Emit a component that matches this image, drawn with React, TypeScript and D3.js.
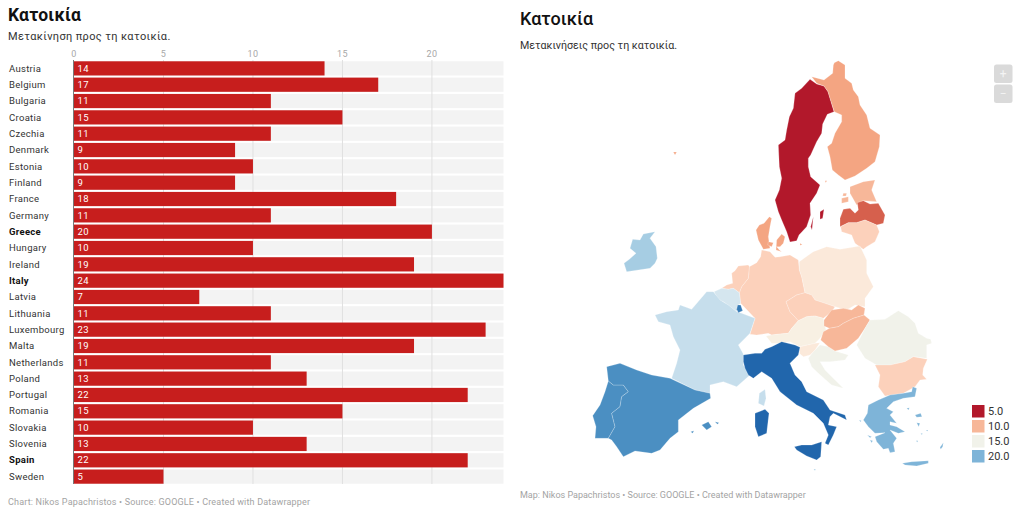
import React from "react";
import * as d3 from "d3";

const categories = ["Austria","Belgium","Bulgaria","Croatia","Czechia","Denmark","Estonia","Finland","France","Germany","Greece","Hungary","Ireland","Italy","Latvia","Lithuania","Luxembourg","Malta","Netherlands","Poland","Portugal","Romania","Slovakia","Slovenia","Spain","Sweden"];
const values = [14,17,11,15,11,9,10,9,18,11,20,10,19,24,7,11,23,19,11,13,22,15,10,13,22,5];
const highlighted = ["Greece","Italy","Spain"];
const barTicks = [0,5,10,15,20];
const legendValues = [5,10,15,20];
const colorStops = [5,7,9,10,11,13,14,15,17,18,19,20,22,24];
const colorRange = ["#b2182b","#d6604d","#f4a582","#f7b799","#fcd1bb","#fbe9da","#f8f0e3","#f1f2ea","#d5e6ef","#c6deec","#a6cde3","#7eb4d8","#4b8fc2","#2166ac"];

// Traced outlines. Each sheet is a 3x view of one part of the map.
const sheets: Record<string, number[]> = { N: [600, 50], S: [580, 250], E: [790, 290], C: [700, 250] };

const sweden = [[630,88],[650,102],[672,108],[684,125],[690,145],[702,185],[682,193],[668,222],[665,250],[650,275],[632,315],[625,325],[625,350],[632,380],[660,405],[650,430],[630,460],[632,495],[620,530],[597,555],[590,572],[570,576],[560,545],[545,510],[535,485],[525,450],[538,420],[545,385],[538,350],[535,285],[555,270],[560,240],[568,200],[580,175],[585,130],[605,115]];
const finland = [[703,38],[715,32],[735,45],[735,85],[755,100],[760,120],[775,140],[780,165],[800,195],[810,235],[840,255],[838,290],[825,335],[800,355],[765,378],[735,390],[715,375],[697,360],[690,320],[682,290],[695,280],[705,250],[725,215],[725,195],[703,185],[690,145],[684,125],[672,108],[650,100],[635,80],[672,90],[698,70],[700,45]];
const estonia = [[750,410],[790,395],[825,390],[815,420],[830,455],[790,452],[770,465],[750,430]];
const saaremaa = [[725,445],[745,440],[745,455],[725,460]];
const hiiumaa = [[730,430],[740,430],[738,438],[728,438]];
const latvia = [[720,530],[720,505],[730,478],[750,475],[765,490],[775,480],[772,458],[790,452],[810,462],[835,460],[855,495],[850,520],[830,525],[795,510],[770,518],[745,518]];
const lithuania = [[722,530],[745,518],[770,518],[795,510],[830,525],[838,545],[825,575],[800,590],[790,598],[765,580],[755,555],[725,545]];
const jutland = [[468,540],[478,525],[492,520],[508,500],[515,505],[510,530],[505,560],[510,595],[490,598],[475,570]];
const zealand = [[530,570],[545,552],[555,560],[550,580],[540,590],[530,590],[538,600],[545,605],[528,600]];
const funen = [[505,575],[520,578],[515,590],[503,585]];
const gotland = [[660,485],[672,478],[668,505],[660,508]];
const oland = [[632,530],[640,500],[636,540]];
const aland = [[675,392],[681,392],[677,398]];
const bornholm = [[600,580],[607,584],[600,586]];
const faroe = [[220,306],[230,306],[225,315]];
const ireland = [[130,552],[165,545],[150,565],[168,590],[172,625],[165,640],[150,655],[80,665],[72,640],[88,628],[108,610],[90,595],[98,568],[120,570]];

const germany = [[185,0],[210,5],[225,22],[240,20],[270,15],[295,30],[298,60],[305,80],[315,128],[290,135],[258,155],[270,185],[295,212],[275,235],[265,250],[240,252],[215,255],[205,250],[170,255],[150,253],[165,205],[122,160],[118,128],[125,110],[145,85],[148,50],[170,38],[182,20]];
const netherlands = [[65,115],[80,105],[98,100],[95,70],[105,62],[115,48],[145,45],[148,50],[145,85],[125,110],[118,128],[100,115],[85,118]];
const belgium = [[42,125],[65,115],[85,118],[100,115],[118,128],[122,160],[115,165],[110,185],[90,170],[70,155],[55,150]];
const luxembourg = [[113,165],[122,165],[128,182],[115,188],[110,178]];
const poland = [[298,35],[340,5],[380,-10],[420,-2],[480,-12],[500,30],[500,70],[520,110],[495,145],[495,170],[465,165],[440,180],[405,170],[375,160],[345,150],[335,135],[315,128],[305,80],[298,60]];
const czechia = [[258,155],[290,135],[315,128],[335,135],[345,150],[375,160],[405,170],[395,185],[370,205],[345,198],[320,200],[295,212],[270,185]];
const austria = [[275,235],[295,212],[320,200],[345,198],[370,205],[378,240],[360,265],[345,280],[300,290],[270,275],[240,280],[215,280],[198,258],[215,255],[240,252],[265,250]];

const france = [[225,195],[260,185],[295,180],[300,165],[335,178],[380,125],[400,125],[420,150],[445,165],[470,185],[485,190],[525,205],[510,250],[475,285],[490,312],[490,345],[510,375],[470,410],[430,395],[390,405],[390,430],[345,420],[275,385],[290,340],[300,300],[280,260],[270,225],[235,215]];
const corsica = [[535,460],[538,430],[555,418],[558,445],[552,468]];
const italy = [[490,315],[525,310],[545,310],[555,298],[575,290],[605,275],[645,285],[660,292],[655,315],[630,340],[645,375],[665,395],[680,425],[730,450],[750,480],[795,495],[800,510],[760,490],[750,500],[745,525],[770,530],[760,555],[745,585],[735,580],[745,555],[730,520],[700,490],[650,465],[600,425],[575,385],[545,365],[520,385],[505,375],[495,355],[490,335]];
const sardinia = [[525,490],[555,478],[567,490],[560,550],[535,560],[525,530]];
const sicily = [[643,590],[665,585],[695,585],[725,575],[722,620],[710,630],[680,618],[650,600]];
const spain = [[80,350],[120,340],[170,360],[215,375],[270,385],[345,420],[390,430],[392,445],[340,475],[295,510],[295,545],[270,565],[240,600],[215,610],[165,603],[130,620],[110,590],[95,570],[85,565],[105,530],[95,490],[120,470],[125,440],[145,425],[130,405],[100,405],[85,393]];
const portugal = [[85,393],[100,405],[130,405],[145,425],[125,440],[120,470],[95,490],[105,530],[85,565],[45,565],[48,530],[38,497],[60,465],[75,425]];
const mallorca = [[365,525],[385,515],[395,530],[380,540]];
const menorca = [[405,515],[417,518],[412,523]];
const ibiza = [[332,545],[342,542],[338,550]];

const slovakia = [[102,90],[125,60],[160,55],[185,60],[205,45],[225,55],[222,75],[190,85],[160,100],[145,110],[118,115],[102,108]];
const hungary = [[118,115],[145,110],[160,100],[190,85],[222,75],[240,90],[225,115],[205,145],[170,175],[135,183],[115,170],[92,150],[100,125]];
const slovenia = [[30,170],[75,160],[90,158],[75,180],[60,195],[40,200],[28,190]];
const croatia = [[70,185],[90,165],[115,170],[135,183],[175,195],[165,210],[120,215],[90,215],[105,240],[135,270],[160,295],[125,285],[85,250],[65,230],[55,205]];
const romania = [[200,165],[225,115],[240,90],[285,88],[325,62],[355,80],[375,100],[385,130],[410,145],[422,148],[425,160],[410,165],[410,205],[370,200],[345,215],[300,225],[260,225],[225,205]];
const bulgaria = [[255,225],[300,225],[345,215],[370,200],[412,208],[400,235],[398,255],[410,268],[390,270],[375,290],[340,310],[285,318],[265,290],[270,255]];
const greece = [[235,345],[265,330],[300,315],[340,310],[365,305],[368,290],[380,295],[375,320],[340,325],[310,335],[290,355],[310,365],[300,375],[320,400],[300,395],[300,405],[320,410],[345,425],[325,430],[300,420],[320,445],[310,460],[315,485],[300,488],[295,475],[280,478],[260,455],[255,440],[285,428],[255,430],[235,410],[220,390],[232,370]];
const crete = [[337,520],[365,515],[415,512],[415,520],[380,528],[345,525]];
const lesbos = [[375,375],[392,370],[396,380],[380,382]];
const chios = [[380,398],[390,400],[386,410]];
const rhodes = [[450,472],[460,458],[458,470],[452,478]];
const samos = [[350,355],[358,353],[356,360]];
const naxos = [[378,452],[384,452],[382,457]];
const kos = [[408,420],[414,420],[412,424]];
const andros = [[392,430],[398,431],[395,434]];
const zakynthos = [[240,450],[248,452],[245,458]];
const kefalonia = [[232,435],[245,440],[240,443]];
const corfu = [[207,390],[214,392],[212,396]];
const malta = [[71,537],[77,537],[75,542]];

const shapes: [string, string, number[][]][] = [
  ["Ireland","N",ireland],["Faroe","N",faroe],
  ["Sweden","N",sweden],["Sweden","N",gotland],["Sweden","N",oland],["Finland","N",finland],["Finland","N",aland],
  ["Estonia","N",estonia],["Estonia","N",saaremaa],["Estonia","N",hiiumaa],["Latvia","N",latvia],["Lithuania","N",lithuania],
  ["Denmark","N",jutland],["Denmark","N",zealand],["Denmark","N",funen],["Denmark","N",bornholm],
  ["Germany","C",germany],["Netherlands","C",netherlands],["Belgium","C",belgium],["Poland","C",poland],["Czechia","C",czechia],["Austria","C",austria],
  ["France","S",france],["France","S",corsica],["Portugal","S",portugal],["Spain","S",spain],["Spain","S",mallorca],["Spain","S",menorca],["Spain","S",ibiza],
  ["Croatia","E",croatia],["Slovenia","E",slovenia],["Slovakia","E",slovakia],["Hungary","E",hungary],["Romania","E",romania],["Bulgaria","E",bulgaria],
  ["Greece","E",greece],["Greece","E",crete],["Greece","E",lesbos],["Greece","E",chios],["Greece","E",rhodes],["Greece","E",samos],["Greece","E",naxos],["Greece","E",kos],["Greece","E",andros],["Greece","E",zakynthos],["Greece","E",kefalonia],["Greece","E",corfu],
  ["Italy","S",italy],["Italy","S",sardinia],["Italy","S",sicily],["Malta","E",malta],["Luxembourg","C",luxembourg],
];

const sans = "Roboto, sans-serif";

export default function App() {
  const x = d3.scaleLinear().domain([0, 24]).range([74, 503.5]);
  const y = d3.scaleBand().domain(categories).range([60.3, 484.7]).paddingInner(0.13).paddingOuter(0.06);
  const color = d3.scaleLinear<string>().domain(colorStops).range(colorRange);
  const valueOf = (name: string) => (name === "Faroe" ? 9 : values[categories.indexOf(name)]);
  const line = d3.line<number[]>().curve(d3.curveLinearClosed);
  const toPixels = (sheet: string, pts: number[][]) => {
    const [ox, oy] = sheets[sheet];
    const sx = d3.scaleLinear().domain([0, 3]).range([ox, ox + 1]);
    const sy = d3.scaleLinear().domain([0, 3]).range([oy, oy + 1]);
    return pts.map(([a, b]) => [sx(a), sy(b)]);
  };
  const legendY = d3.scalePoint<number>().domain(legendValues).range([411, 456]);

  return (
    <svg width={1024} height={513} style={{ position: "absolute", left: 0, top: 0, background: "#fff", fontFamily: sans }}>
      {/* left: bars */}
      <text x={8} y={21} fontSize={17.5} fontWeight={700} fill="#111" letterSpacing={0.2}>Κατοικία</text>
      <text x={8} y={39.5} fontSize={11} fill="#333" letterSpacing={0.35}>Μετακίνηση προς τη κατοικία.</text>
      {categories.map((c) => (
        <rect key={c} x={74} y={y(c)} width={429.5} height={y.bandwidth()} fill="#f3f3f3" />
      ))}
      {barTicks.map((t) => (
        <g key={t}>
          <text x={x(t)} y={57} textAnchor="middle" fontSize={9} fill="#a8a8a8" letterSpacing={0.3}>{t}</text>
          {t > 0 && <line x1={x(t)} x2={x(t)} y1={60} y2={484} stroke="#e0e0e0" strokeWidth={1} />}
        </g>
      ))}
      {categories.map((c, i) => (
        <g key={c}>
          <rect x={x(0)} y={y(c)} width={x(values[i]) - x(0)} height={y.bandwidth()} fill="#c71e1d" />
          <text x={9} y={y(c)! + y.bandwidth() / 2 + 3.2} fontSize={9.5} letterSpacing={0.3}
            fontWeight={highlighted.includes(c) ? 700 : 400} fill={highlighted.includes(c) ? "#111" : "#333"}>{c}</text>
          <text x={77.5} y={y(c)! + y.bandwidth() / 2 + 3.2} fontSize={9.5} fill="#fff" letterSpacing={0.3}>{values[i]}</text>
        </g>
      ))}
      <line x1={73.5} x2={73.5} y1={60} y2={484} stroke="#777" strokeWidth={1} />
      <text x={8} y={505} fontSize={9} fill="#a3a3a3" letterSpacing={0.18}>Chart: Nikos Papachristos • Source: GOOGLE • Created with Datawrapper</text>

      {/* right: map */}
      <text x={520} y={25} fontSize={18} fontWeight={500} fill="#111">Κατοικία</text>
      <text x={520} y={49} fontSize={10.7} fill="#333">Μετακινήσεις προς τη κατοικία.</text>
      {shapes.map(([name, sheet, pts], i) => (
        <path key={i} d={line(toPixels(sheet, pts)) ?? ""} fill={color(valueOf(name))} stroke="#fff" strokeOpacity={0.45} strokeWidth={0.5} />
      ))}
      <g>
        {["+", "−"].map((s, i) => (
          <g key={s}>
            <rect x={994} y={64.5 + i * 20} width={18.5} height={18.5} rx={2.5} fill="#dadada" />
            <text x={1003.2} y={78 + i * 20} textAnchor="middle" fontSize={12} fill="#f4f4f4">{s}</text>
          </g>
        ))}
      </g>
      {legendValues.map((v) => (
        <g key={v}>
          <rect x={972} y={legendY(v)! - 6} width={12.5} height={12.5} fill={color(v)} />
          <text x={988} y={legendY(v)! + 4} fontSize={11} fill="#333">{v.toFixed(1)}</text>
        </g>
      ))}
      <text x={520} y={498} fontSize={9} fill="#a3a3a3" letterSpacing={0}>Map: Nikos Papachristos • Source: GOOGLE • Created with Datawrapper</text>
    </svg>
  );
}
